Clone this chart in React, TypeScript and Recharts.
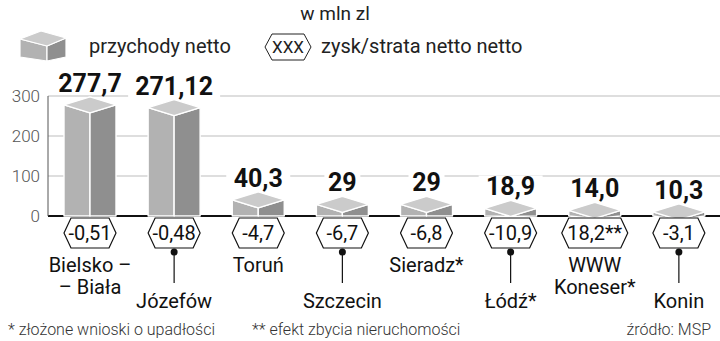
import React from "react";
import { BarChart, Bar, XAxis, YAxis, CartesianGrid, LabelList } from "recharts";

// dane: przychody netto i zysk/strata netto (w mln zl)
const categories = [
  ["Bielsko –", "– Biała"],
  ["Józefów"],
  ["Toruń"],
  ["Szczecin"],
  ["Sieradz*"],
  ["Łódź*"],
  ["WWW", "Koneser*"],
  ["Konin"],
];
const revenue = [277.7, 271.12, 40.3, 29, 29, 18.9, 14.0, 10.3];
const revenueLabels = ["277,7", "271,12", "40,3", "29", "29", "18,9", "14,0", "10,3"];
const profitLabels = ["-0,51", "-0,48", "-4,7", "-6,7", "-6,8", "-10,9", "18,2**", "-3,1"];
const yTicks = [0, 100, 200, 300];

const data = categories.map((lines, i) => ({
  name: lines.join(" "),
  revenue: revenue[i],
  label: revenueLabels[i],
  profit: profitLabels[i],
}));

const FONT = "Roboto, 'Liberation Sans', sans-serif";
const TOP = "#cbcbcb";
const LEFT = "#b2b2b2";
const RIGHT = "#8f8f8f";
const DEPTH = 8;

// kostka 3D
function Box3D(props: any) {
  const { x, y, width, height } = props;
  const cx = x + width / 2;
  const base = y + height;
  const mid = Math.max(base, y + DEPTH);
  const common = { stroke: "#fff", strokeWidth: 1.4, strokeLinejoin: "round" as const };
  return (
    <g>
      <polygon points={`${x},${y} ${cx},${y + DEPTH} ${cx},${mid} ${x},${base}`} fill={LEFT} {...common} />
      <polygon points={`${cx},${y + DEPTH} ${x + width},${y} ${x + width},${base} ${cx},${mid}`} fill={RIGHT} {...common} />
      <polygon points={`${x},${y} ${cx},${y - DEPTH} ${x + width},${y} ${cx},${y + DEPTH}`} fill={TOP} {...common} />
    </g>
  );
}

function ValueLabel(props: any) {
  const { x, y, width, value } = props;
  const cx = x + width / 2;
  const by = y - DEPTH - 5;
  const w = String(value).length * 14 + 8;
  return (
    <g>
      <rect x={cx - w / 2} y={by - 20} width={w} height={23} fill="#fff" />
      <text x={cx} y={by} textAnchor="middle" fontFamily={FONT} fontWeight={700} fontSize={25} fill="#111">
        {value}
      </text>
    </g>
  );
}

function hexPoints(cx: number, top: number, w: number, h: number, ind: number) {
  const l = cx - w / 2;
  const r = cx + w / 2;
  const m = top + h / 2;
  return `${l},${m} ${l + ind},${top} ${r - ind},${top} ${r},${m} ${r - ind},${top + h} ${l + ind},${top + h}`;
}

function BottomLabel(props: any) {
  const { x, y, width, height, value, index } = props;
  const cx = x + width / 2;
  const base = y + height;
  const hw = String(value).length > 5 ? 66 : 52;
  const lowered = index % 2 === 1;
  const lines = categories[index];
  return (
    <g fontFamily={FONT}>
      <polygon points={hexPoints(cx, base + 2, hw, 30, 7)} fill="#fff" stroke="#111" strokeWidth={1.2} />
      <text x={cx} y={base + 24} textAnchor="middle" fontSize={20} fill="#111">
        {value}
      </text>
      {lowered && (
        <g>
          <circle cx={cx} cy={base + 36} r={3.5} fill="#111" />
          <line x1={cx} y1={base + 36} x2={cx} y2={base + 67} stroke="#111" strokeWidth={1.2} />
        </g>
      )}
      {lines.map((t, k) => (
        <text key={k} x={cx} y={base + (lowered ? 92 : 56) + k * 22} textAnchor="middle" fontSize={20} fill="#111">
          {t}
        </text>
      ))}
    </g>
  );
}

function GridLine(p: any) {
  const isBase = Math.abs(p.y1 - (p.y + p.height)) < 0.5;
  return (
    <line
      x1={p.x1}
      y1={p.y1}
      x2={isBase ? p.x2 + 2 : p.x2}
      y2={p.y2}
      stroke={isBase ? "#111" : "#bdbdbd"}
      strokeWidth={isBase ? 2 : 1}
    />
  );
}

export default function App() {
  return (
    <div style={{ position: "absolute", left: 0, top: 0, width: 720, height: 341, background: "#fff" }}>
      <BarChart width={720} height={341} data={data} margin={{ top: 96, right: -1, bottom: 0, left: 0 }}>
        <CartesianGrid vertical={false} horizontal={GridLine} />
        <XAxis dataKey="name" height={125} tick={false} axisLine={false} tickLine={false} />
        <YAxis
          width={48}
          domain={[0, 300]}
          ticks={yTicks}
          interval={0}
          tickLine={false}
          axisLine={{ stroke: "#555", strokeWidth: 1 }}
          tick={{ fontSize: 17, fill: "#555", fontFamily: FONT, fontWeight: 300 }}
        />
        <Bar dataKey="revenue" barSize={52} shape={Box3D} isAnimationActive={false}>
          <LabelList dataKey="label" content={ValueLabel} />
          <LabelList dataKey="profit" content={BottomLabel} />
        </Bar>
      </BarChart>

      {/* nagłówek, legenda, przypisy */}
      <svg width={720} height={341} style={{ position: "absolute", left: 0, top: 0, pointerEvents: "none" }} fontFamily={FONT}>
        <text x={335} y={20} textAnchor="middle" fontSize={19} fill="#222">w mln zl</text>

        <g stroke="#fff" strokeWidth={1.2} strokeLinejoin="round">
          <polygon points="20,39 47,46 47,61 20,57" fill={LEFT} />
          <polygon points="47,46 66,38 66,57 47,61" fill={RIGHT} />
          <polygon points="20,39 41,31 66,38 47,46" fill={TOP} />
        </g>
        <text x={89} y={53} fontSize={20} fill="#222">przychody netto</text>

        <polygon points={hexPoints(288, 34, 46, 26, 7)} fill="#fff" stroke="#222" strokeWidth={1} />
        <text x={288} y={53} textAnchor="middle" fontSize={17} fill="#222">XXX</text>
        <text x={321} y={53} fontSize={20} fill="#222">zysk/strata netto netto</text>

        <g fontSize={16} fontWeight={300} fill="#333">
          <text x={8} y={335}>* złożone wnioski o upadłości</text>
          <text x={252} y={335}>** efekt zbycia nieruchomości</text>
          <text x={711} y={335} textAnchor="end">źródło: MSP</text>
        </g>
      </svg>
    </div>
  );
}
